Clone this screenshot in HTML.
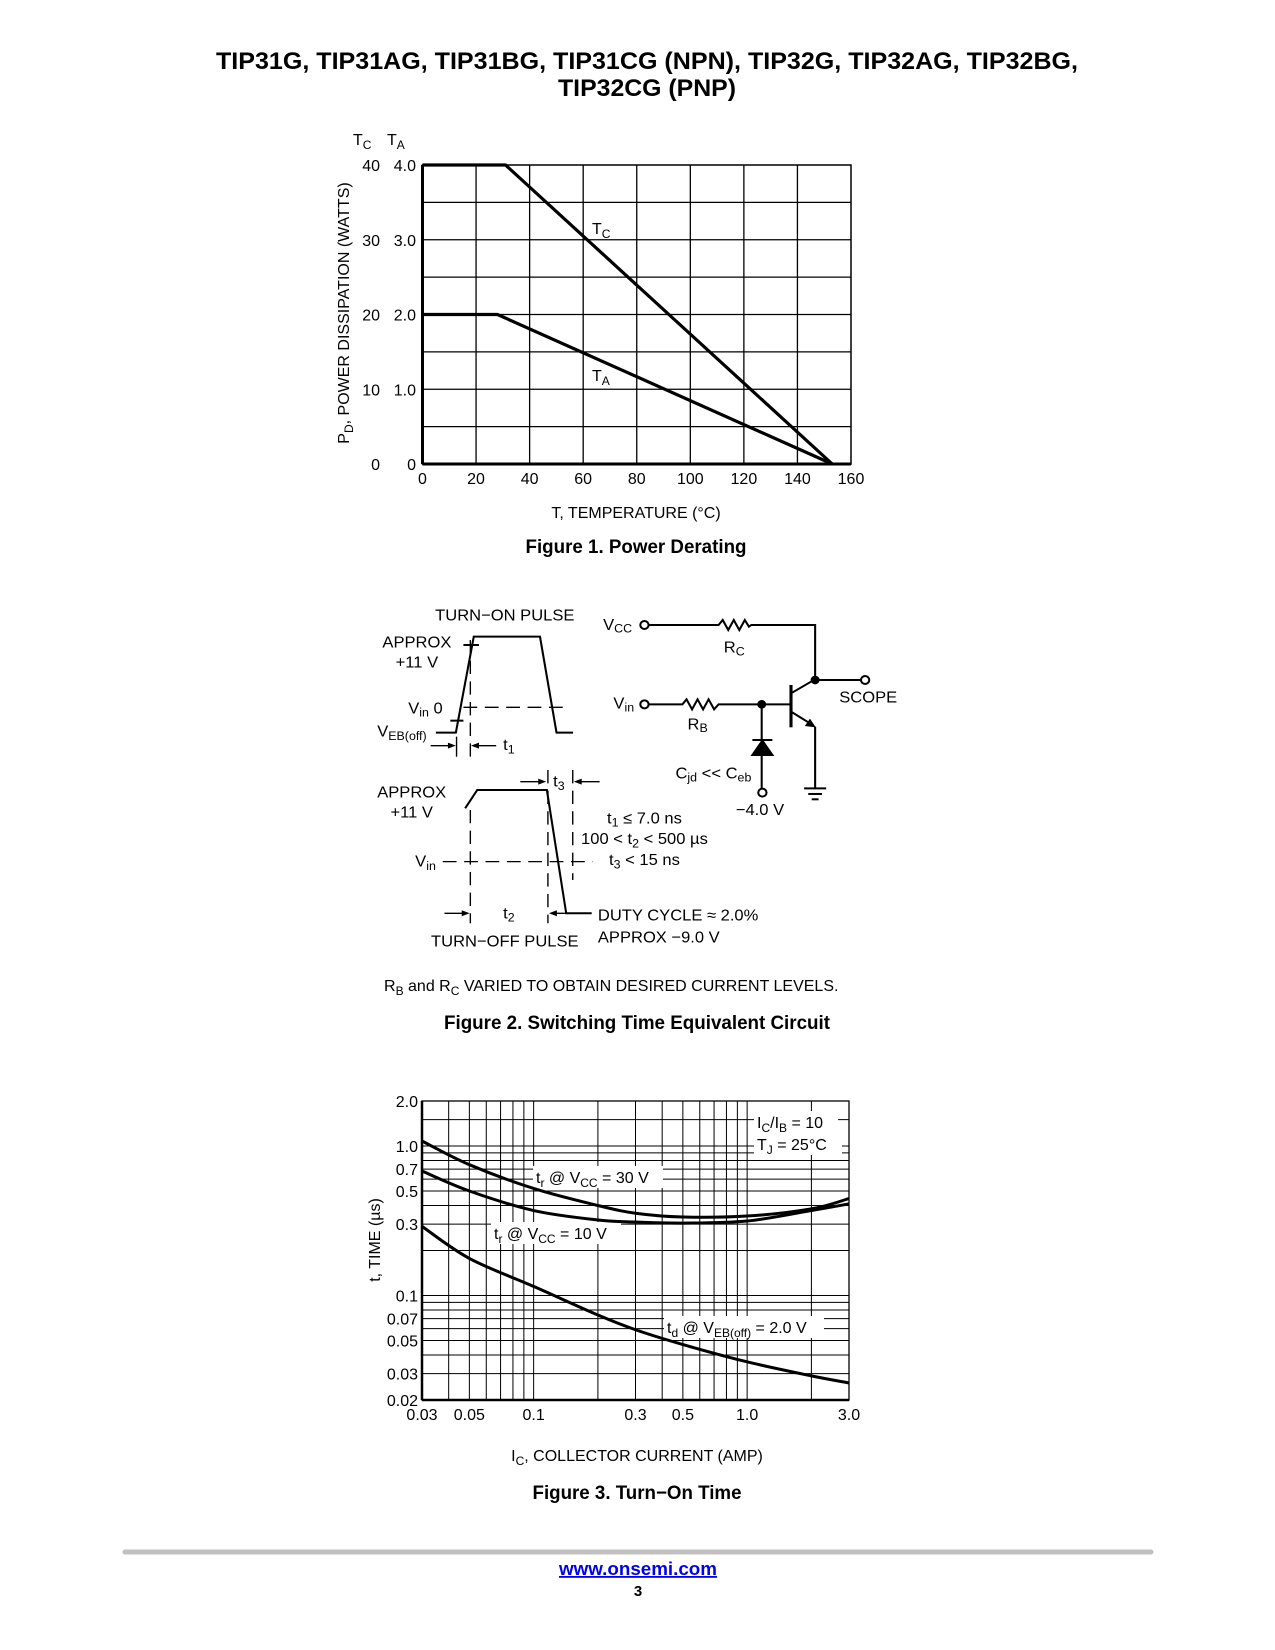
<!DOCTYPE html>
<html><head><meta charset="utf-8"><style>
body{margin:0;background:#fff}
svg{display:block;font-family:"Liberation Sans",Arial,sans-serif}
</style></head><body>
<svg id="page" width="1275" height="1650" viewBox="0 0 1275 1650" xmlns="http://www.w3.org/2000/svg">
<rect width="1275" height="1650" fill="#fff"/>
<g font-weight="bold" font-size="24" text-anchor="middle">
<text x="647" y="69" textLength="862" lengthAdjust="spacingAndGlyphs">TIP31G, TIP31AG, TIP31BG, TIP31CG (NPN), TIP32G, TIP32AG, TIP32BG,</text>
<text x="647" y="96" textLength="178" lengthAdjust="spacingAndGlyphs">TIP32CG (PNP)</text>
</g>

<g id="fig1"></g>
<text x="636" y="553" font-size="19" font-weight="bold" text-anchor="middle" textLength="221" lengthAdjust="spacingAndGlyphs">Figure 1. Power Derating</text>

<g transform="translate(360,590) scale(0.3448,0.3333)" fill="none" stroke="#000" stroke-width="6">
 <g>
  <polyline points="220,428 278,428 330,140 522,140 570,428 618,428"/>
  <line x1="300" y1="165" x2="345" y2="165"/><line x1="262" y1="392" x2="300" y2="392"/>
  <line x1="300" y1="352" x2="605" y2="352" stroke-dasharray="40,22" stroke-width="4"/>
  <line x1="320" y1="150" x2="320" y2="500" stroke-dasharray="40,22" stroke-width="4"/>
  <line x1="280" y1="440" x2="280" y2="500" stroke-width="4"/>
  <line x1="205" y1="467" x2="262" y2="467" stroke-width="4"/><polygon points="278,467 255,458 255,476" fill="#000" stroke="none"/>
  <line x1="395" y1="467" x2="338" y2="467" stroke-width="4"/><polygon points="322,467 345,458 345,476" fill="#000" stroke="none"/>
 </g>
 <g>
  <polyline points="305,655 340,600 542,600 598,970 672,970"/>
  <line x1="320" y1="660" x2="320" y2="1000" stroke-dasharray="40,22" stroke-width="4"/>
  <line x1="545" y1="540" x2="545" y2="1000" stroke-dasharray="40,22" stroke-width="4"/>
  <line x1="617" y1="540" x2="617" y2="870" stroke-dasharray="40,22" stroke-width="4"/>
  <line x1="240" y1="815" x2="675" y2="815" stroke-dasharray="40,22" stroke-width="4"/>
  <line x1="465" y1="575" x2="524" y2="575" stroke-width="4"/><polygon points="540,575 517,566 517,584" fill="#000" stroke="none"/>
  <line x1="695" y1="575" x2="636" y2="575" stroke-width="4"/><polygon points="620,575 643,566 643,584" fill="#000" stroke="none"/>
  <line x1="245" y1="970" x2="302" y2="970" stroke-width="4"/><polygon points="318,970 295,961 295,979" fill="#000" stroke="none"/>
  <line x1="610" y1="970" x2="564" y2="970" stroke-width="4"/><polygon points="548,970 571,961 571,979" fill="#000" stroke="none"/>
 </g>
 <g>
  <circle cx="825" cy="105" r="12"/>
  <polyline points="837,105 1040,105 1052,90 1068,120 1084,90 1100,120 1116,90 1128,110 1135,105 1320,105 1320,270"/>
  <circle cx="1320" cy="270" r="10" fill="#000"/>
  <line x1="1320" y1="270" x2="1453" y2="270"/><circle cx="1465" cy="270" r="12"/>
  <circle cx="825" cy="343" r="12"/>
  <polyline points="837,343 935,343 947,328 963,358 979,328 995,358 1011,328 1027,358 1040,343 1250,343"/>
  <circle cx="1165" cy="343" r="10" fill="#000"/>
  <line x1="1250" y1="285" x2="1250" y2="412" stroke-width="9"/>
  <line x1="1250" y1="310" x2="1320" y2="268"/>
  <line x1="1250" y1="365" x2="1305" y2="400"/><polygon points="1322,412 1290,408 1305,386" fill="#000" stroke="none"/>
  <polyline points="1320,410 1320,595"/>
  <line x1="1288" y1="595" x2="1352" y2="595"/><line x1="1300" y1="612" x2="1340" y2="612"/><line x1="1310" y1="628" x2="1330" y2="628"/>
  <line x1="1165" y1="343" x2="1165" y2="596"/>
  <line x1="1138" y1="450" x2="1196" y2="450"/>
  <polygon points="1138,495 1196,495 1167,452" fill="#000"/>
  <circle cx="1167" cy="608" r="12" fill="#fff"/>
 </g>
 <g fill="#000" stroke="none" font-size="48">
  <text x="420" y="92" text-anchor="middle">TURN−ON PULSE</text>
  <text x="265" y="172" text-anchor="end">APPROX</text>
  <text x="165" y="232" text-anchor="middle">+11 V</text>
  <text x="240" y="370" text-anchor="end">V<tspan font-size="36" dy="10">in</tspan><tspan dy="-10"> 0</tspan></text>
  <text x="50" y="440">V<tspan font-size="36" dy="10">EB(off)</tspan></text>
  <text x="415" y="480">t<tspan font-size="36" dy="10">1</tspan></text>
  <text x="50" y="622">APPROX</text>
  <text x="150" y="682" text-anchor="middle">+11 V</text>
  <text x="160" y="830">V<tspan font-size="36" dy="10">in</tspan></text>
  <text x="560" y="590">t<tspan font-size="36" dy="10">3</tspan></text>
  <text x="415" y="985">t<tspan font-size="36" dy="10">2</tspan></text>
  <text x="420" y="1070" text-anchor="middle">TURN−OFF PULSE</text>
  <text x="825" y="700" text-anchor="middle">t<tspan font-size="36" dy="10">1</tspan><tspan dy="-10"> ≤ 7.0 ns</tspan></text>
  <text x="825" y="762" text-anchor="middle">100 &lt; t<tspan font-size="36" dy="10">2</tspan><tspan dy="-10"> &lt; 500 µs</tspan></text>
  <text x="825" y="825" text-anchor="middle">t<tspan font-size="36" dy="10">3</tspan><tspan dy="-10"> &lt; 15 ns</tspan></text>
  <text x="690" y="992">DUTY CYCLE ≈ 2.0%</text>
  <text x="690" y="1057">APPROX −9.0 V</text>
  <text x="705" y="120">V<tspan font-size="36" dy="8">CC</tspan></text>
  <text x="1055" y="188">R<tspan font-size="36" dy="8">C</tspan></text>
  <text x="1390" y="338">SCOPE</text>
  <text x="735" y="355">V<tspan font-size="36" dy="10">in</tspan></text>
  <text x="950" y="418">R<tspan font-size="36" dy="8">B</tspan></text>
  <text x="1160" y="675" text-anchor="middle">−4.0 V</text>
  <text x="1135" y="565" text-anchor="end">C<tspan font-size="36" dy="10">jd</tspan><tspan dy="-10"> &lt;&lt; C</tspan><tspan font-size="36" dy="10">eb</tspan></text>
 </g>
</g>
<text x="384" y="991" font-size="16">R<tspan font-size="12" dy="4">B</tspan><tspan dy="-4"> and R</tspan><tspan font-size="12" dy="4">C</tspan><tspan dy="-4"> VARIED TO OBTAIN DESIRED CURRENT LEVELS.</tspan></text>
<text x="637" y="1029" font-size="19" font-weight="bold" text-anchor="middle" textLength="386" lengthAdjust="spacingAndGlyphs">Figure 2. Switching Time Equivalent Circuit</text>

<g id="fig3"></g>
<text x="637" y="1499" font-size="19" font-weight="bold" text-anchor="middle" textLength="209" lengthAdjust="spacingAndGlyphs">Figure 3. Turn−On Time</text>

<line x1="125" y1="1552" x2="1151" y2="1552" stroke="#c0c0c0" stroke-width="5" stroke-linecap="round"/>
<text x="638" y="1575" font-size="18" font-weight="bold" fill="#0000ee" text-anchor="middle" text-decoration="underline" textLength="158" lengthAdjust="spacingAndGlyphs">www.onsemi.com</text>
<text x="638" y="1596" font-size="15" font-weight="bold" text-anchor="middle">3</text>
</svg>
<script>
// ---- Figure 1 data ----
const f1XTicks = [0,20,40,60,80,100,120,140,160];
const f1YTicksTC = [0,10,20,30,40];
const f1YTicksTA = ["0","1.0","2.0","3.0","4.0"];
const tcTemps = [0,31,153];
const tcWatts = [40,40,0];
const taTemps = [0,28,153];
const taWatts = [2.0,2.0,0];
// ---- Figure 3 data ----
const f3XTickVals = [0.03,0.05,0.1,0.3,0.5,1.0,3.0];
const f3XTickLabels = ["0.03","0.05","0.1","0.3","0.5","1.0","3.0"];
const f3YTickVals = [0.02,0.03,0.05,0.07,0.1,0.3,0.5,0.7,1.0,2.0];
const f3YTickLabels = ["0.02","0.03","0.05","0.07","0.1","0.3","0.5","0.7","1.0","2.0"];
const icAmps = [0.03,0.05,0.1,0.2,0.3,0.5,1.0,2.0,3.0];
const tr30 = [1.08,0.75,0.52,0.40,0.355,0.335,0.34,0.38,0.445];
const tr10 = [0.68,0.50,0.37,0.32,0.31,0.305,0.315,0.37,0.41];
const td2 = [0.29,0.177,0.115,0.074,0.059,0.047,0.036,0.029,0.026];

const NS="http://www.w3.org/2000/svg";
function mk(parent,tag,attrs,txt){const e=document.createElementNS(NS,tag);for(const k in attrs)e.setAttribute(k,attrs[k]);if(txt!==undefined)e.textContent=txt;parent.appendChild(e);return e;}

// Figure 1
(function(){
 const g=document.getElementById('fig1');
 const L=422.5,R=851,T=165,B=464;
 const x=v=>L+(v-0)/(160-0)*(R-L);
 const yC=v=>B-(v/40)*(B-T);
 const yA=v=>B-(v/4)*(B-T);
 for(let v=20;v<160;v+=20){const l=mk(g,'line',{x1:x(v),y1:T,x2:x(v),y2:B,stroke:'#000','stroke-width':1.3});
  }
 for(let v=5;v<40;v+=5){const l=mk(g,'line',{x1:L,y1:yC(v),x2:R,y2:yC(v),stroke:'#000','stroke-width':1.3});
  }
 const fr=mk(g,'rect',{x:L,y:T,width:R-L,height:B-T,fill:'none',stroke:'#000','stroke-width':1.5});
 
 mk(g,'line',{x1:L,y1:T,x2:L,y2:B,stroke:'#000','stroke-width':3});
 mk(g,'line',{x1:L,y1:B,x2:R,y2:B,stroke:'#000','stroke-width':3});
 const tc=mk(g,'polyline',{points:tcTemps.map((t,i)=>x(t)+','+yC(tcWatts[i])).join(' '),fill:'none',stroke:'#000','stroke-width':3.2});
 
 const ta=mk(g,'polyline',{points:taTemps.map((t,i)=>x(t)+','+yA(taWatts[i])).join(' '),fill:'none',stroke:'#000','stroke-width':3.2});
 
 f1XTicks.forEach(v=>{const t=mk(g,'text',{x:x(v),y:484,'font-size':16,'text-anchor':'middle'},String(v));
  });
 f1YTicksTC.forEach((v,i)=>{const t=mk(g,'text',{x:380,y:yC(v)+6,'font-size':16,'text-anchor':'end'},String(v));
  
  const u=mk(g,'text',{x:416,y:yC(v)+6,'font-size':16,'text-anchor':'end'},f1YTicksTA[i]);
  });
 const h=mk(g,'text',{x:353,y:145,'font-size':16});h.innerHTML='T<tspan font-size="12" dy="4">C</tspan>';
 
 const h2=mk(g,'text',{x:387,y:145,'font-size':16});h2.innerHTML='T<tspan font-size="12" dy="4">A</tspan>';
 
 const l1=mk(g,'text',{x:592,y:234,'font-size':16});l1.innerHTML='T<tspan font-size="12" dy="4">C</tspan>';
 
 const l2=mk(g,'text',{x:592,y:381,'font-size':16});l2.innerHTML='T<tspan font-size="12" dy="4">A</tspan>';
 
 const xt=mk(g,'text',{x:636,y:518,'font-size':16,'text-anchor':'middle'},'T, TEMPERATURE (°C)');
 
 const yt=mk(g,'text',{x:0,y:0,'font-size':16,'text-anchor':'middle',transform:'translate(349,313) rotate(-90)'});
 yt.innerHTML='P<tspan font-size="12" dy="4">D</tspan><tspan dy="-4">, POWER DISSIPATION (WATTS)</tspan>';
 
})();

// Figure 3
(function(){
 const g=document.getElementById('fig3');
 const L=422,R=849,T=1101,B=1400;
 const x=v=>L+Math.log10(v/0.03)/2*(R-L);
 const y=v=>B-Math.log10(v/0.02)/2*(B-T);
 const xs=[0.04,0.05,0.06,0.07,0.08,0.09,0.1,0.2,0.3,0.4,0.5,0.6,0.7,0.8,0.9,1,2];
 xs.forEach(v=>{const l=mk(g,'line',{x1:x(v),y1:T,x2:x(v),y2:B,stroke:'#000','stroke-width':1});
  });
 const ys=[0.03,0.04,0.05,0.06,0.07,0.08,0.09,0.1,0.2,0.3,0.4,0.5,0.6,0.7,0.8,0.9,1,1.5];
 ys.forEach(v=>{const l=mk(g,'line',{x1:L,y1:y(v),x2:R,y2:y(v),stroke:'#000','stroke-width':1});
  });
 mk(g,'rect',{x:L,y:T,width:R-L,height:B-T,fill:'none',stroke:'#000','stroke-width':1.3});
 mk(g,'line',{x1:L,y1:T,x2:L,y2:B,stroke:'#000','stroke-width':2.5});
 mk(g,'line',{x1:L,y1:B,x2:R,y2:B,stroke:'#000','stroke-width':2.5});
 function curve(vals,name){
  const p=icAmps.map((a,i)=>[x(a),y(vals[i])]);
  let d='M'+p[0][0]+','+p[0][1];
  for(let i=0;i<p.length-1;i++){const p0=p[i-1]||p[i],p1=p[i],p2=p[i+1],p3=p[i+2]||p2;
   d+=' C'+(p1[0]+(p2[0]-p0[0])/6)+','+(p1[1]+(p2[1]-p0[1])/6)+' '+(p2[0]-(p3[0]-p1[0])/6)+','+(p2[1]-(p3[1]-p1[1])/6)+' '+p2[0]+','+p2[1];}
  const e=mk(g,'path',{d:d,fill:'none',stroke:'#000','stroke-width':3});
  }
 function box(x0,y0,w,h,html,name){mk(g,'rect',{x:x0,y:y0,width:w,height:h,fill:'#fff'});
  const t=mk(g,'text',{x:x0+3,y:y0+h-5,'font-size':16});t.innerHTML=html;
  }
 box(533,1166,130,22,'t<tspan font-size="12" dy="4">r</tspan><tspan dy="-4"> @ V</tspan><tspan font-size="12" dy="4">CC</tspan><tspan dy="-4"> = 30 V</tspan>','tr-30v-label');
 box(491,1222,130,22,'t<tspan font-size="12" dy="4">r</tspan><tspan dy="-4"> @ V</tspan><tspan font-size="12" dy="4">CC</tspan><tspan dy="-4"> = 10 V</tspan>','tr-10v-label');
 box(664,1316,160,22,'t<tspan font-size="12" dy="4">d</tspan><tspan dy="-4"> @ V</tspan><tspan font-size="12" dy="4">EB(off)</tspan><tspan dy="-4"> = 2.0 V</tspan>','td-label');
 box(754,1111,84,22,'I<tspan font-size="12" dy="4">C</tspan><tspan dy="-4">/I</tspan><tspan font-size="12" dy="4">B</tspan><tspan dy="-4"> = 10</tspan>','ic-ib-condition');
 box(754,1133,88,22,'T<tspan font-size="12" dy="4">J</tspan><tspan dy="-4"> = 25°C</tspan>','tj-condition');
 curve(tr30,'tr-30v-curve');curve(tr10,'tr-10v-curve');curve(td2,'td-curve');
 f3XTickVals.forEach((v,i)=>{const t=mk(g,'text',{x:x(v),y:1420,'font-size':16,'text-anchor':'middle'},f3XTickLabels[i]);
  });
 f3YTickVals.forEach((v,i)=>{const t=mk(g,'text',{x:418,y:y(v)+6,'font-size':16,'text-anchor':'end'},f3YTickLabels[i]);
  });
 const xt=mk(g,'text',{x:637,y:1461,'font-size':16,'text-anchor':'middle'});
 xt.innerHTML='I<tspan font-size="12" dy="4">C</tspan><tspan dy="-4">, COLLECTOR CURRENT (AMP)</tspan>';
 
 const yt=mk(g,'text',{x:0,y:0,'font-size':16,'text-anchor':'middle',transform:'translate(380,1240) rotate(-90)'},'t, TIME (µs)');
 
})();
</script>
</body></html>
